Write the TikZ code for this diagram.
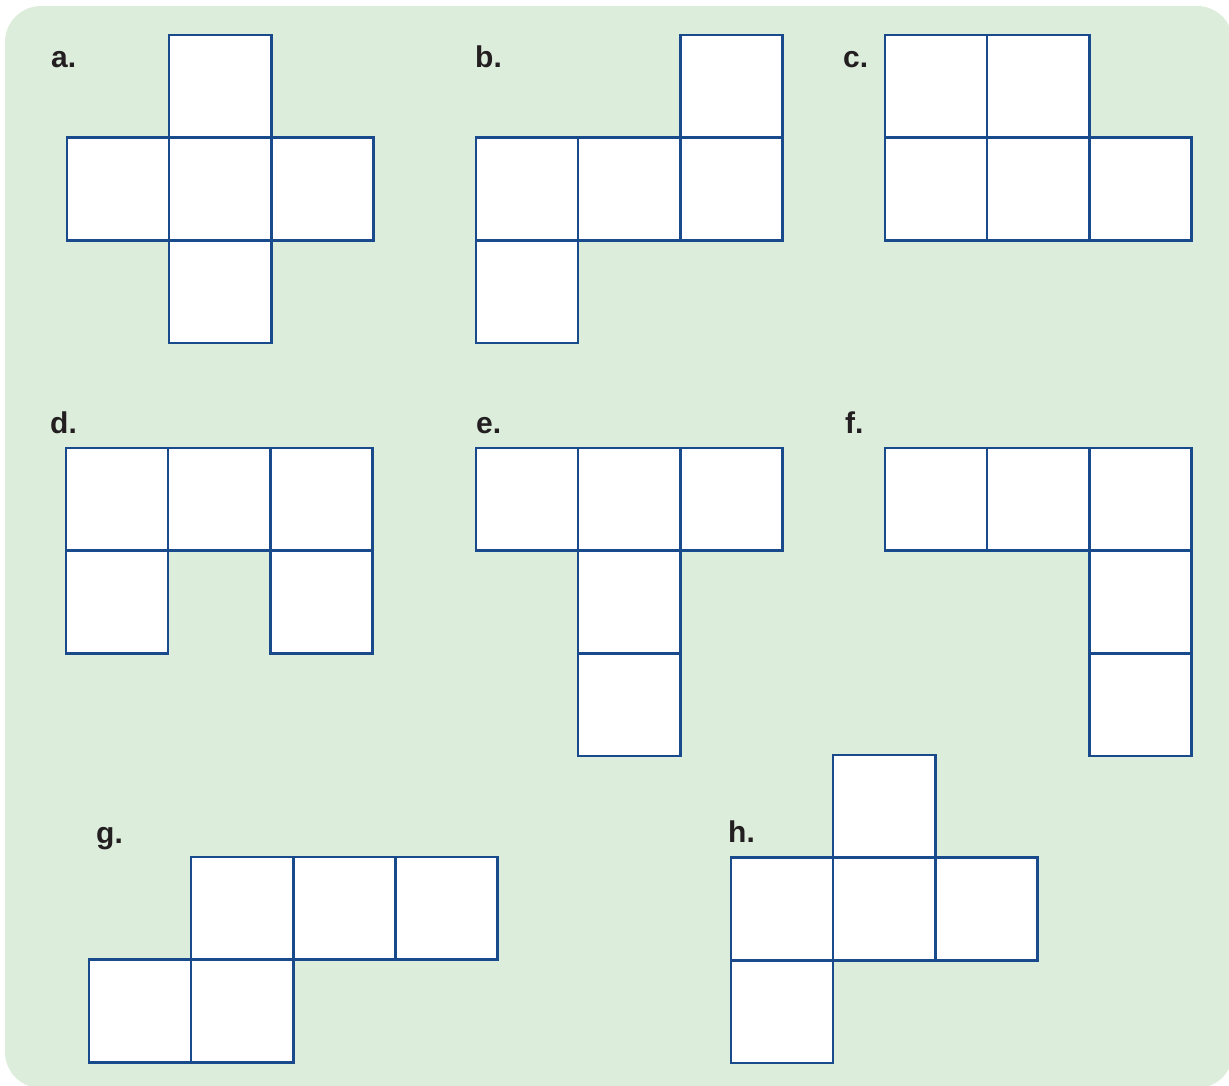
\documentclass[tikz,border=0pt]{standalone}
\usepackage{fontspec}
\setsansfont{Liberation Sans}
\usepackage{tikz}
\usetikzlibrary{positioning}
\definecolor{fondo}{RGB}{221,237,220}
\definecolor{azul}{RGB}{24,74,140}
\definecolor{texto}{RGB}{35,31,32}

\begin{document}
\begin{tikzpicture}[x=1pt, y=-1pt,
  cara/.style={draw=azul, fill=white, line width=2.6pt},
  etiq/.style={anchor=base west, inner sep=0pt, text=texto,
               font=\sffamily\bfseries\fontsize{30}{32}\selectfont}]
  \useasboundingbox (0,0) rectangle (1229,1085);
  \fill[fondo, rounded corners=36pt] (5,6) rectangle (1233,1088);
  % redes del cubo: origen / caras
  \foreach \ox/\oy/\caras in {67/35/{1/0,0/1,1/1,2/1,1/2},
                              476/35/{2/0,0/1,1/1,2/1,0/2},
                              885/35/{0/0,1/0,0/1,1/1,2/1},
                              66/448/{0/0,1/0,2/0,0/1,2/1},
                              476/448/{0/0,1/0,2/0,1/1,1/2},
                              885/448/{0/0,1/0,2/0,2/1,2/2},
                              89/857/{1/0,2/0,3/0,0/1,1/1},
                              731/755/{1/0,0/1,1/1,2/1,0/2}}
  {
    \begin{scope}[shift={(\ox,\oy)}, x=102.1pt, y=-102.7pt]
      \foreach \i/\j in \caras
        \draw[cara] (\i,\j) rectangle ++(1,1);
    \end{scope}
  }
  \foreach \n/\x/\y in {a/51/67, b/475/67, c/843/67, d/50/433,
                        e/476/433, f/845/433, g/96/843, h/728/842}
    \node[etiq] (l\n) at (\x,\y) {\n.};
\end{tikzpicture}
\end{document}
